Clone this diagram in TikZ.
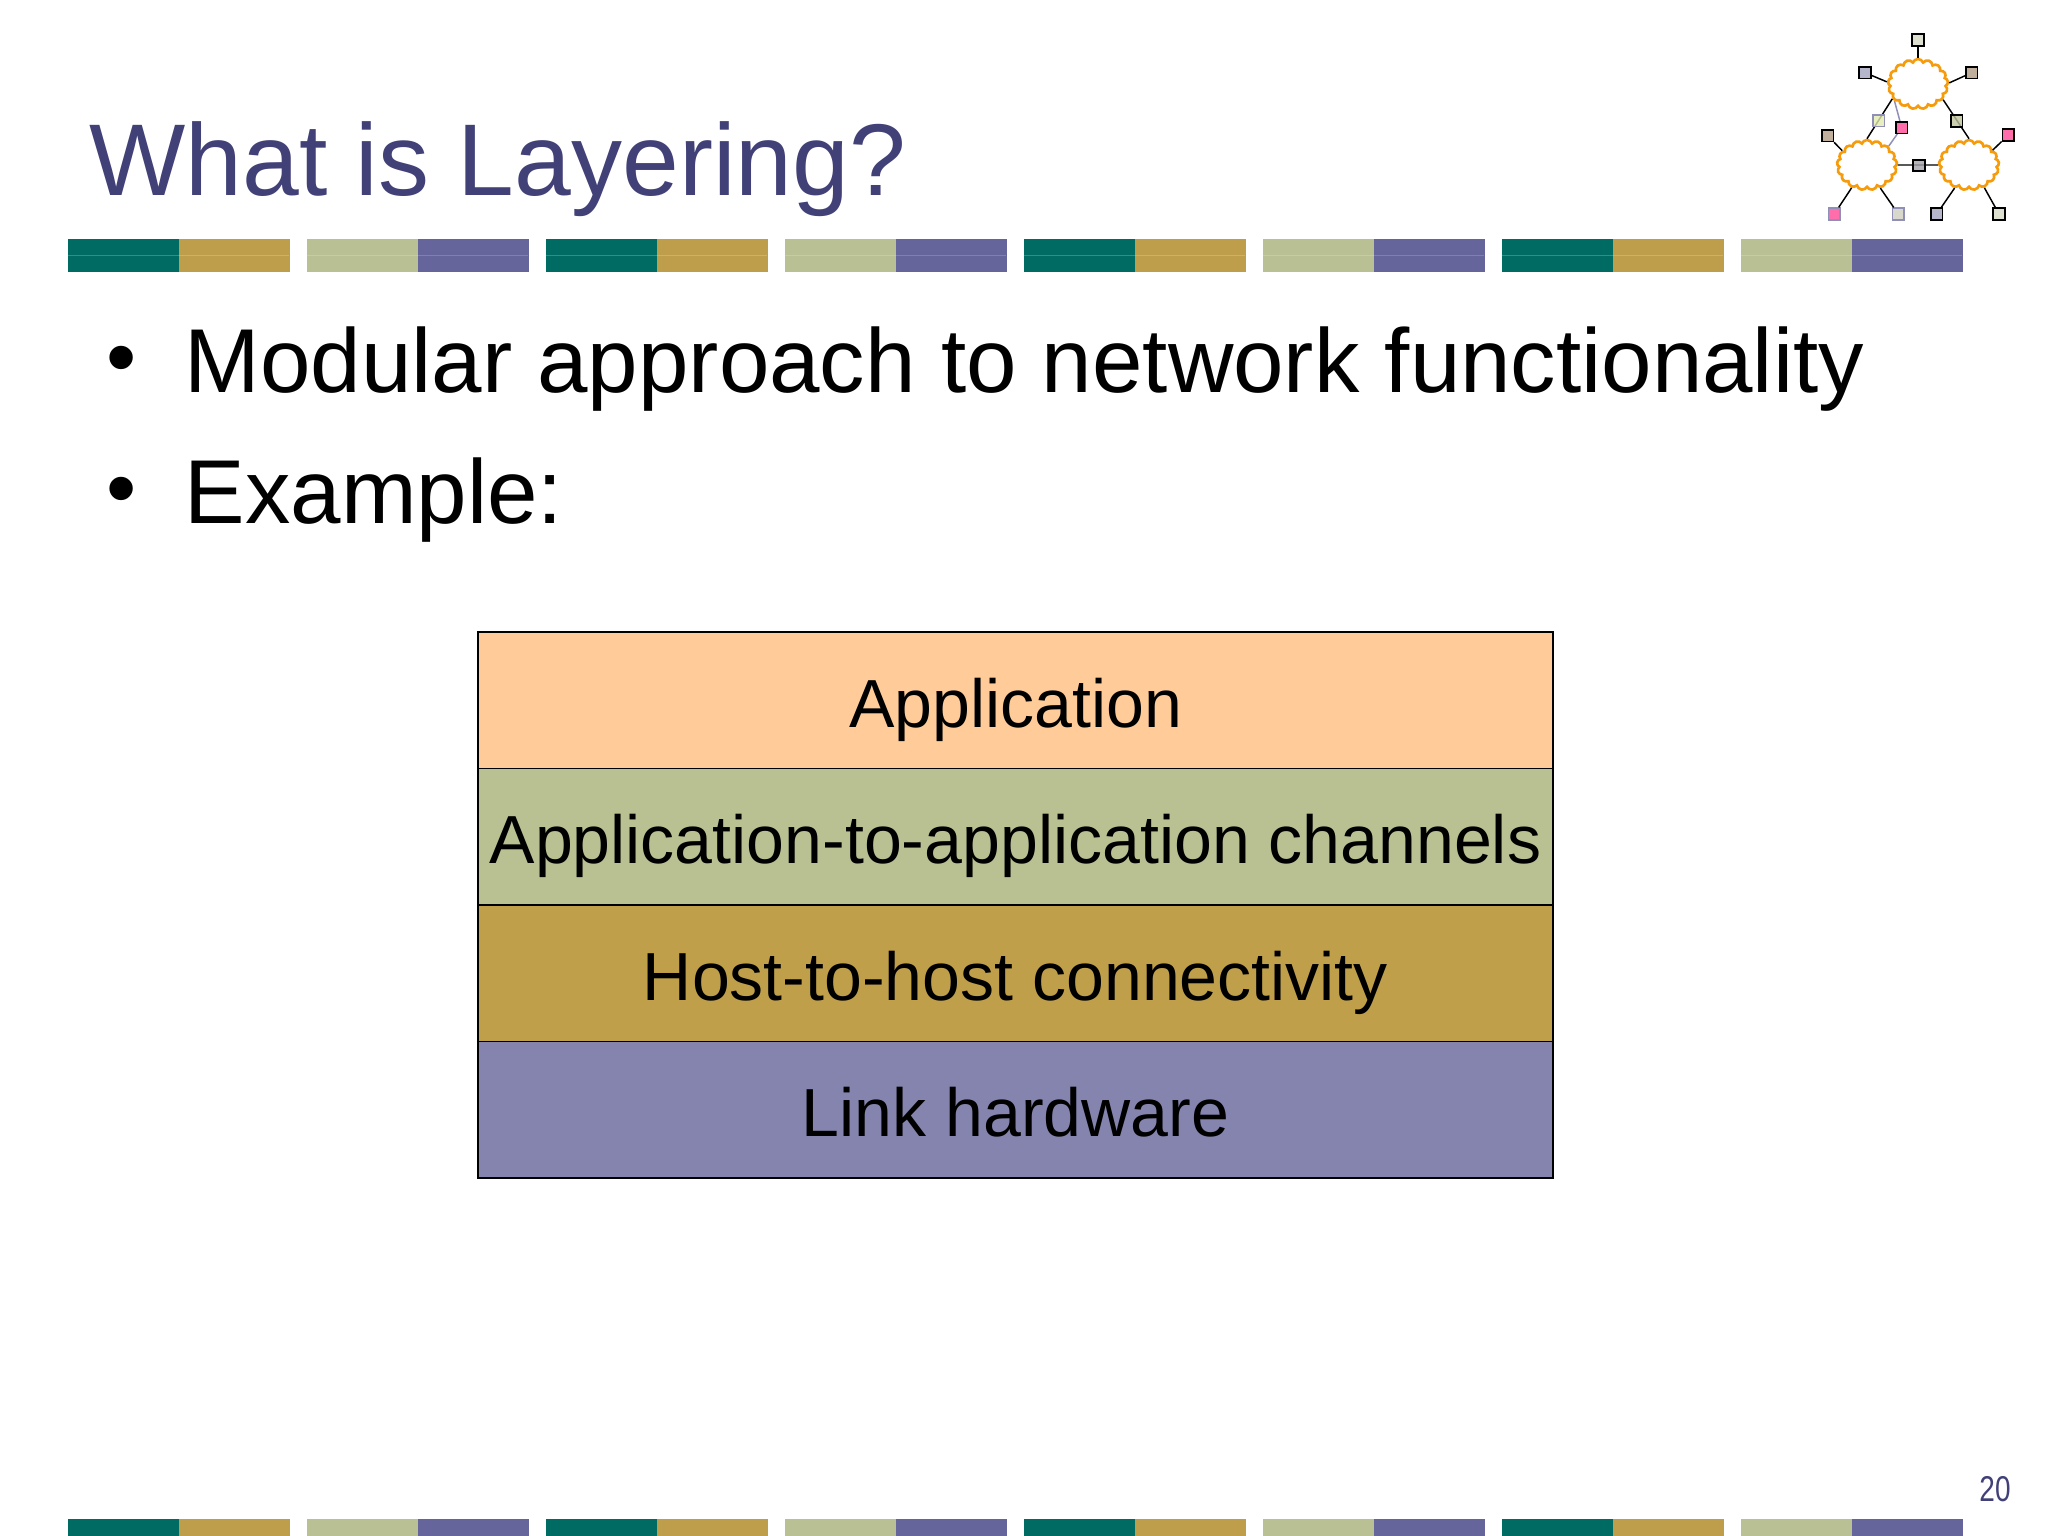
\documentclass[tikz,border=0pt]{standalone}
\usepackage{graphicx}
\usepackage{fontspec}
\setmainfont{Liberation Sans}
\usetikzlibrary{shapes.symbols}
\definecolor{titleblue}{HTML}{414178}
\definecolor{teal}{HTML}{006B63}
\definecolor{tealhi}{HTML}{2E8F88}
\definecolor{gold}{HTML}{BE9E4B}
\definecolor{goldhi}{HTML}{CDB06A}
\definecolor{sage}{HTML}{B8C094}
\definecolor{sagehi}{HTML}{C6CDA6}
\definecolor{purp}{HTML}{65659B}
\definecolor{purphi}{HTML}{8080B0}
\definecolor{peach}{HTML}{FFCC99}
\definecolor{boxsage}{HTML}{B9C193}
\definecolor{boxgold}{HTML}{BF9F4A}
\definecolor{boxpurp}{HTML}{8484AE}
\definecolor{cloudor}{HTML}{F59B0C}
\definecolor{pinkq}{HTML}{FF6EAA}
\definecolor{edgepurp}{HTML}{8F8FB8}
\definecolor{qpale}{HTML}{DDE0CF}
\definecolor{qlilac}{HTML}{B5B5CC}
\definecolor{qtan}{HTML}{BFAF9C}
\definecolor{qyellow}{HTML}{E3EBB0}
\definecolor{qolive}{HTML}{C0C49C}
\definecolor{qgrey}{HTML}{A0A0A8}
\definecolor{qstone}{HTML}{D8D8CC}
\tikzset{
  x=0.01cm,y=-0.01cm,
  titletext/.style={anchor=base west,inner sep=0pt,text=titleblue,font=\fontsize{29pt}{34pt}\selectfont},
  bullettext/.style={anchor=base west,inner sep=0pt,font=\fontsize{25.8pt}{30pt}\selectfont},
  bulletdot/.style={anchor=base,inner sep=0pt,font=\fontsize{24.5pt}{28pt}\selectfont},
  layerbox/.style={draw=black,line width=0.55pt,minimum width=10.745cm,minimum height=1.365cm,inner sep=0pt,anchor=north west},
  layertext/.style={anchor=base,inner sep=0pt,font=\fontsize{19.35pt}{23pt}\selectfont},
  pagenum/.style={anchor=base,inner sep=0pt,text=titleblue,font=\fontsize{10.2pt}{12pt}\selectfont},
  netcloud/.style={cloud,cloud puffs=17,cloud puff arc=140,aspect=1.2,draw=cloudor,line width=0.75pt,minimum width=0.6cm,minimum height=0.5cm,inner sep=0pt},
  netsq/.style={rectangle,draw=black,line width=0.5pt,minimum size=0.115cm,inner sep=0pt},
  netline/.style={draw=black,line width=0.42pt},
  purpline/.style={draw=edgepurp,line width=0.42pt},
}
\newcommand{\barpair}[6]{%
  \fill[#2] (#1,#5) rectangle (#1+111,#6);
  \fill[#3] (#1+111,#5) rectangle (#1+222,#6);
  \ifnum#4=1
    \draw[#2hi,line width=0.25pt] (#1,255) -- (#1+111,255);
    \draw[#3hi,line width=0.25pt] (#1+111,255) -- (#1+221,255);
  \fi}
\begin{document}
\begin{tikzpicture}
\useasboundingbox[fill=white] (0,0) rectangle (2048,1536);
% colour bars
\foreach \i in {0,2,4,6}{
  \pgfmathsetmacro{\xa}{68+239*\i}
  \pgfmathsetmacro{\xb}{68+239*(\i+1)}
  \barpair{\xa}{teal}{gold}{1}{239}{272}
  \barpair{\xb}{sage}{purp}{1}{239}{272}
  \barpair{\xa}{teal}{gold}{0}{1519}{1536}
  \barpair{\xb}{sage}{purp}{0}{1519}{1536}
}
% title and bullets
\node[titletext] (title) at (89,195) {What is Layering?};
\node[bulletdot] (dot1) at (122,386) {•};
\node[bullettext] (b1) at (184,392) {Modular approach to network functionality};
\node[bulletdot] (dot2) at (122,517) {•};
\node[bullettext] (b2) at (184,523) {Example:};
% layer stack
\node[layerbox,fill=peach] (l1) at (477,631) {};
\node[layerbox,fill=boxsage] (l2) at (477,767.5) {};
\node[layerbox,fill=boxgold] (l3) at (477,904) {};
\node[layerbox,fill=boxpurp] (l4) at (477,1040.5) {};
\node[layertext] (t1) at (1015.5,727) {Application};
\node[layertext] (t2) at (1015.5,863) {Application-to-application channels};
\node[layertext] (t3) at (1015.5,1000) {Host-to-host connectivity};
\node[layertext] (t4) at (1015.5,1136) {Link hardware};
% page number
\node[pagenum] (pg) at (1995,1501) {\scalebox{0.78}[1]{20}};
% network icon
\node[netcloud] (cT) at (1918,84) {};
\node[netcloud] (cL) at (1867,165) {};
\node[netcloud] (cR) at (1969,165) {};
\coordinate (pA) at (1878.7,120.7);
\coordinate (pB) at (1901.7,127.7);
\coordinate (pC) at (1956.7,121);
\coordinate (pM) at (1919,165.5);
\path[netline] (cT.210) -- (cL.90);
\path[netline] (cT.328) -- (cR.90);
\path[netline] (cL.0) -- (cR.180);
\path[purpline] (cT.216) -- (pB) -- (cL.41);
\node[netsq,fill=qpale] (sT) at (1918,40) {};
\node[netsq,fill=qlilac] (sTL) at (1865,72.7) {};
\node[netsq,fill=qtan] (sTR) at (1971.7,72.7) {};
\node[netsq,draw=edgepurp,fill=qyellow,fill opacity=0.8] (sA) at (pA) {};
\node[netsq,fill=pinkq] (sB) at (pB) {};
\node[netsq,fill=qolive,fill opacity=0.8] (sC) at (pC) {};
\node[netsq,fill=qtan] (sLL) at (1827.7,135.7) {};
\node[netsq,fill=pinkq] (sRR) at (2008.3,135) {};
\node[netsq,fill=qgrey,fill opacity=0.8] (sM) at (pM) {};
\node[netsq,draw=edgepurp,fill=pinkq] (sBL1) at (1834.3,214) {};
\node[netsq,draw=edgepurp,fill=qstone] (sBL2) at (1898.3,214) {};
\node[netsq,fill=qlilac] (sBR1) at (1936.7,214) {};
\node[netsq,fill=qpale] (sBR2) at (1999,214) {};
\path[netline] (sT) -- (cT.90);
\path[netline] (sTL) -- (cT.176);
\path[netline] (sTR) -- (cT.2);
\path[netline] (sLL) -- (cL.150);
\path[netline] (sBL1) -- (cL.236);
\path[netline] (sBL2) -- (cL.300);
\path[netline] (sRR) -- (cR.32);
\path[netline] (sBR1) -- (cR.238);
\path[netline] (sBR2) -- (cR.304);
\end{tikzpicture}
\end{document}
